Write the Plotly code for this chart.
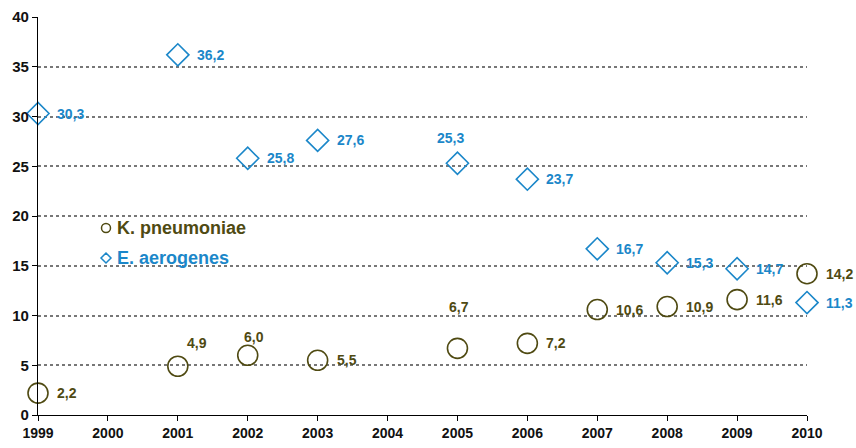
import plotly.graph_objects as go

years = [1999, 2001, 2002, 2003, 2005, 2006, 2007, 2008, 2009, 2010]
k_pneumoniae = [2.2, 4.9, 6.0, 5.5, 6.7, 7.2, 10.6, 10.9, 11.6, 14.2]
e_aerogenes = [30.3, 36.2, 25.8, 27.6, 25.3, 23.7, 16.7, 15.3, 14.7, 11.3]
x_ticks = list(range(1999, 2011))
y_ticks = list(range(0, 45, 5))
series_names = ["K. pneumoniae", "E. aerogenes"]

# label placement: (xanchor, xshift, yshift) in pixels
k_label_pos = [("left", 17, 0), ("left", 7, 23), ("center", 6, 18), ("left", 17, 0),
               ("center", 2, 41), ("left", 17, 0), ("left", 17, 0), ("left", 17, 0),
               ("left", 17, 0), ("left", 17, 0)]
e_label_pos = [("left", 17, 0), ("left", 17, 0), ("left", 17, 0), ("left", 17, 0),
               ("center", -7, 25), ("left", 17, 0), ("left", 17, 0), ("left", 17, 0),
               ("left", 17, 0), ("left", 17, 0)]

K_COLOR = "#4F4A12"
E_COLOR = "#1B87C9"
FONT = "Liberation Sans, Arial, sans-serif"

def fmt(v):
    return f"{v:.1f}".replace(".", ",")

fig = go.Figure()
fig.add_trace(go.Scatter(
    x=years, y=k_pneumoniae, mode="markers", name=series_names[0],
    marker=dict(symbol="circle-open", size=20, color=K_COLOR, line=dict(width=1.6)),
    cliponaxis=False, showlegend=False,
))
fig.add_trace(go.Scatter(
    x=years, y=e_aerogenes, mode="markers", name=series_names[1],
    marker=dict(symbol="diamond-open", size=17, color=E_COLOR, line=dict(width=1.6)),
    cliponaxis=False, showlegend=False,
))

for vals, pos, col in [(k_pneumoniae, k_label_pos, K_COLOR), (e_aerogenes, e_label_pos, E_COLOR)]:
    for x, v, (anc, dx, dy) in zip(years, vals, pos):
        fig.add_annotation(x=x, y=v, text=fmt(v), showarrow=False, xanchor=anc, yanchor="middle",
                           xshift=dx, yshift=dy,
                           font=dict(family=FONT, size=14, color=col, weight="bold"))

W, H = 856, 448
# plot area in screen pixels
plot_l, plot_r, plot_t, plot_b = 38, 807, 17, 415

def px2paper(px, py):
    return (px - plot_l) / (plot_r - plot_l), (plot_b - py) / (plot_b - plot_t)

lx, ly1 = px2paper(106, 228)
_, ly2 = px2paper(106, 258)
tx, _ = px2paper(115, 0)
fig.add_shape(type="circle", xref="paper", yref="paper", xsizemode="pixel", ysizemode="pixel",
              xanchor=lx, yanchor=ly1, x0=-4.5, x1=4.5, y0=-4.5, y1=4.5,
              line=dict(color=K_COLOR, width=1.5), fillcolor="rgba(0,0,0,0)")
fig.add_shape(type="path", xref="paper", yref="paper", xsizemode="pixel", ysizemode="pixel",
              xanchor=lx, yanchor=ly2, path="M 0,5 L 5,0 L 0,-5 L -5,0 Z",
              line=dict(color=E_COLOR, width=1.5), fillcolor="rgba(0,0,0,0)")
for name, yy, col in [(series_names[0], ly1, K_COLOR), (series_names[1], ly2, E_COLOR)]:
    fig.add_annotation(xref="paper", yref="paper", x=tx, y=yy, text=name, showarrow=False,
                       xanchor="left", yanchor="middle",
                       font=dict(family=FONT, size=18, color=col, weight="bold"))

fig.update_layout(
    width=W, height=H,
    margin=dict(l=plot_l, r=W - plot_r, t=plot_t, b=H - plot_b, pad=0),
    paper_bgcolor="white", plot_bgcolor="white",
    font=dict(family=FONT, size=14, color="#111111"),
    showlegend=False,
    xaxis=dict(range=[1999, 2010], tickvals=x_ticks, ticktext=[str(t) for t in x_ticks],
               showgrid=False, zeroline=False, showline=True, linecolor="black", linewidth=1.3,
               ticks="outside", ticklen=5, tickcolor="black", automargin=False,
               tickfont=dict(family=FONT, size=14, weight="bold", color="#111111")),
    yaxis=dict(range=[0, 40], tickvals=y_ticks, ticktext=[str(t) for t in y_ticks],
               showgrid=True, gridcolor="#777777", griddash="dot", gridwidth=1.6,
               zeroline=False, showline=True, linecolor="black", linewidth=1.3,
               ticks="outside", ticklen=5, tickcolor="black", automargin=False,
               tickfont=dict(family=FONT, size=15, weight="bold", color="#111111")),
)

fig.write_html("out.html", config={"displayModeBar": False},
               post_script="document.body.style.margin='0';document.body.style.overflow='hidden';")
